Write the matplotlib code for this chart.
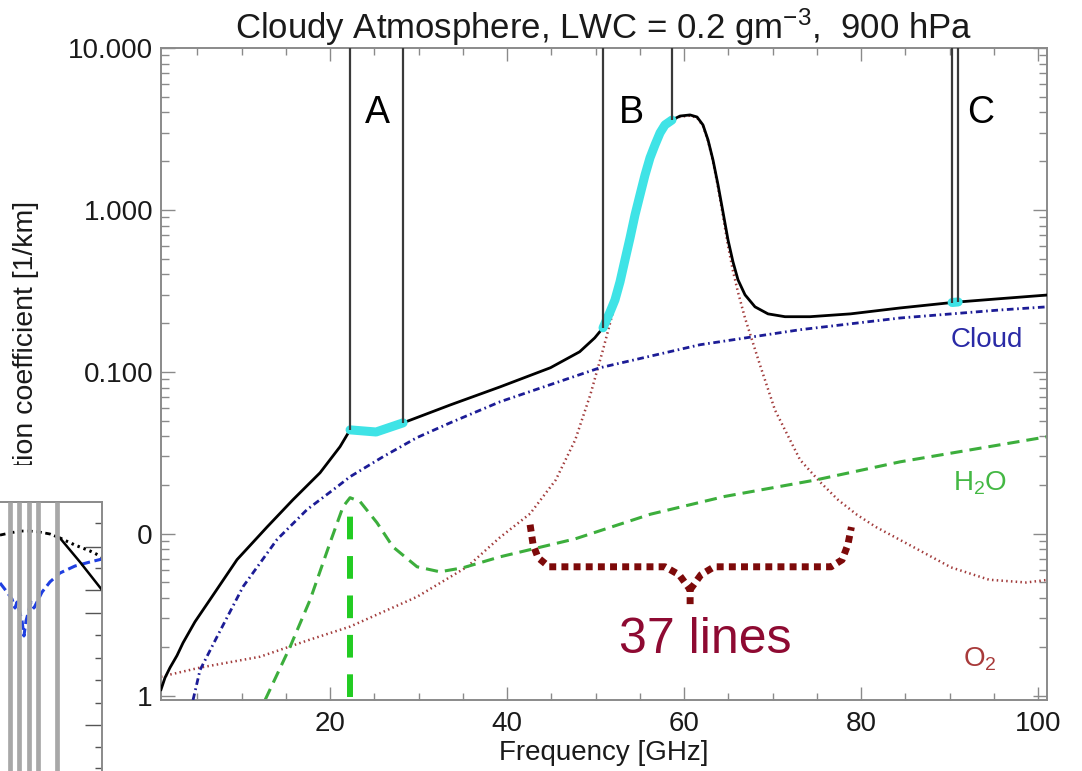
import numpy as np
import matplotlib
matplotlib.use('Agg')
import matplotlib.pyplot as plt
from matplotlib.patches import Rectangle
from matplotlib.ticker import FixedLocator, NullFormatter

plt.rcParams['font.family'] = ['Liberation Sans', 'DejaVu Sans']
plt.rcParams['mathtext.fontset'] = 'custom'
plt.rcParams['mathtext.rm'] = 'Liberation Sans'
plt.rcParams['mathtext.it'] = 'Liberation Sans:italic'
plt.rcParams['mathtext.bf'] = 'Liberation Sans:bold'

# ---- absorption spectra, 900 hPa, LWC 0.2 g/m3 (frequency in GHz, 1/km) ----
total_f = [0.9, 1.35, 1.92, 2.71, 3.39, 4.74, 6.44, 9.49, 12.88, 15.8, 18.87,
           21.13, 22.26, 25.2, 28.25, 33.6, 39.2, 44.9, 48.2, 49.9, 50.84, 51.63,
           52.19, 52.76, 53.32, 53.89, 54.45, 55.02, 55.58, 56.15, 56.71, 57.28,
           57.84, 58.63, 59.54, 60.67, 61.46, 62.13, 62.7, 63.26, 63.83, 64.39,
           64.96, 65.52, 66.09, 66.88, 68.01, 69.48, 71.4, 74.22, 78.8, 84.4,
           90.28, 90.96, 95.7, 101.0]
total_v = [0.00109, 0.00129, 0.00149, 0.00177, 0.00212, 0.00286, 0.00392, 0.00692,
           0.0110, 0.0162, 0.0238, 0.0345, 0.0438, 0.0425, 0.0484, 0.0625, 0.0807,
           0.106, 0.133, 0.162, 0.187, 0.234, 0.278, 0.360, 0.491, 0.671, 0.93,
           1.24, 1.64, 2.10, 2.52, 2.99, 3.35, 3.59, 3.80, 3.86, 3.75, 3.35, 2.71,
           2.04, 1.43, 0.972, 0.653, 0.478, 0.370, 0.299, 0.252, 0.228, 0.219,
           0.219, 0.228, 0.248, 0.268, 0.270, 0.283, 0.298]

cloud_f = [4.52, 5.31, 7.23, 10.17, 14.0, 17.4, 20.8, 22.26, 25.99, 29.8, 33.56,
           39.2, 50.5, 61.8, 73.1, 84.4, 95.7, 101.0]
cloud_v = [0.00094, 0.00144, 0.00231, 0.00471, 0.0092, 0.0141, 0.0195, 0.0225,
           0.0299, 0.0392, 0.0484, 0.0653, 0.106, 0.147, 0.182, 0.215, 0.241, 0.252]

h2o_f = [12.66, 15.48, 17.74, 20.0, 21.47, 22.26, 23.39, 25.3, 27.1, 29.83, 32.4,
         35.0, 39.2, 47.7, 56.2, 64.6, 74.9, 84.4, 101.0]
h2o_v = [0.00094, 0.0020, 0.0039, 0.0088, 0.0147, 0.0167, 0.0158, 0.0117, 0.0083,
         0.00625, 0.00582, 0.00616, 0.0072, 0.0093, 0.0132, 0.0170, 0.0215, 0.0278,
         0.0397]

o2_f = [0.9, 5.31, 12.1, 17.74, 22.26, 29.83, 35.5, 39.2, 42.6, 45.5, 47.7, 49.4,
        50.84, 52.19, 53.32, 54.45, 55.58, 56.71, 57.84, 58.63, 59.54, 60.67,
        61.46, 62.13, 62.7, 63.26, 63.83, 64.39, 64.96, 65.52, 66.09, 66.88, 68.58,
        70.27, 73.1, 75.35, 77.39, 79.53, 81.68, 85.86, 90.15, 94.45, 98.63, 101.2]
o2_v = [0.00131, 0.00149, 0.00174, 0.00222, 0.00267, 0.00408, 0.00625, 0.0095,
        0.0133, 0.0215, 0.038, 0.072, 0.137, 0.26, 0.477, 0.905, 1.6, 2.48, 3.3,
        3.55, 3.76, 3.82, 3.71, 3.31, 2.67, 2.0, 1.38, 0.92, 0.60, 0.42, 0.31,
        0.215, 0.110, 0.058, 0.0286, 0.0209, 0.0162, 0.0131, 0.0110, 0.0083,
        0.0062, 0.0052, 0.0050, 0.0052]

# channel bands A, B, C: edges and the total absorption at each edge
band_names = ['A', 'B', 'C']
band_lo = [22.26, 50.84, 90.28]
band_hi = [28.25, 58.63, 90.96]
band_lo_v = [0.0438, 0.187, 0.268]
band_hi_v = [0.0484, 3.59, 0.270]
band_label_f = [25.3, 54.1, 93.5]

h2o_line_f = 22.235
h2o_line_range = (0.00098, 0.0137)

# brace marking the 60 GHz O2 line complex
brace_left_f = [42.6, 42.94, 43.5, 44.75, 57.85, 59.44, 60.68, 60.68]
brace_left_v = [0.01137, 0.00855, 0.00711, 0.00625, 0.00625, 0.00558, 0.00451, 0.00364]
brace_right_f = [60.68, 61.9, 63.4, 76.6, 77.85, 78.5, 78.9]
brace_right_v = [0.00451, 0.00558, 0.00625, 0.00625, 0.0069, 0.00855, 0.011]

# fragment of the neighbouring figure (arbitrary units)
frag_bars = [0.98, 1.86, 2.84, 3.73, 5.59]
frag_dash_x = [0, 0.98, 1.96, 2.94, 3.92, 4.9, 5.88]
frag_dash_y = [8.77, 8.85, 8.92, 8.92, 8.88, 8.81, 8.66]
frag_dot_x = [5.88, 7.35, 8.82, 10.0]
frag_dot_y = [8.66, 8.40, 8.18, 7.96]
frag_solid_x = [5.88, 7.84, 10.0]
frag_solid_y = [8.66, 7.77, 6.73]
frag_blue_x = [0, 0.59, 1.18, 1.47, 1.67, 2.16, 2.35, 2.55, 3.04, 3.33, 4.12, 4.9,
               5.88, 7.35, 8.82, 10.0]
frag_blue_y = [6.99, 6.70, 6.39, 6.06, 6.28, 5.58, 5.02, 5.58, 6.28, 6.06, 6.65,
               7.03, 7.36, 7.62, 7.77, 7.88]
frag_major = [8.33, 6.73, 5.87, 1.71]
frag_minor = [9.22, 7.55, 5.06, 4.2, 3.38, 2.53, 0.89, 0.11]

W, H = 1082, 771
fig = plt.figure(figsize=(W / 100, H / 100), dpi=100)
ax = fig.add_axes([161 / W, 71 / H, 886 / W, 652 / H])

ax.plot(o2_f, o2_v, color='#a23c3c', lw=1.8, dashes=[0.6, 1.3], zorder=2)
ax.plot(h2o_f, h2o_v, color='#3cae3c', lw=2.2, dashes=[4, 2.3], zorder=2)
ax.plot(cloud_f, cloud_v, color='#1c1c96', lw=2.0, dashes=[2.4, 1.3, 0.6, 1.3], zorder=3)
ax.plot(total_f, total_v, color='black', lw=2.0, zorder=4)

# highlight the total curve inside each band
tf = np.array(total_f)
tv = np.array(total_v)
for lo, hi in zip(band_lo, band_hi):
    m = (tf >= lo - 1e-6) & (tf <= hi + 1e-6)
    ax.plot(tf[m], tv[m], color='#3fe3e6', lw=6.5, solid_capstyle='round', zorder=5)

ax.vlines(band_lo, band_lo_v, 10, colors='#3a3a3a', lw=1.6, zorder=6)
ax.vlines(band_hi, band_hi_v, 10, colors='#3a3a3a', lw=1.6, zorder=6)
for name, xc in zip(band_names, band_label_f):
    ax.text(xc, 3.95, name, fontsize=27, ha='center', va='center', zorder=7)

ax.vlines(h2o_line_f, *h2o_line_range, colors='#22cc22', lw=4.3,
          linestyles=(0, (3.8, 2.8)), zorder=6)

ax.plot(brace_left_f, brace_left_v, color='#7d0a0a', lw=5, dashes=[1, 0.75],
        solid_capstyle='butt', zorder=6)
ax.plot(brace_right_f, brace_right_v, color='#7d0a0a', lw=5, dashes=[1, 0.75],
        solid_capstyle='butt', zorder=6)
ax.text(62.4, 0.00222, '37 lines', fontsize=36, color='#8e0a32', ha='center',
        va='center', zorder=7)

ax.text(94.2, 0.158, 'Cloud', fontsize=20, color='#2a2aa6', ha='center', va='center')
ax.text(93.4, 0.0204, r'H$_2$O', fontsize=20, color='#44b844', ha='center', va='center')
ax.text(93.4, 0.00168, r'O$_2$', fontsize=20, color='#a83a3a', ha='center', va='center')

ax.set_yscale('log')
ax.set_xlim(0.9, 101.0)
ax.set_ylim(0.00094, 10.0)
ax.set_xticks([20, 40, 60, 80, 100])
ax.set_xticks(np.arange(5, 101, 5), minor=True)
ax.set_yticks([0.001, 0.01, 0.1, 1, 10])
ax.set_yticklabels(['0.001', '0.010', '0.100', '1.000', '10.000'])
ax.yaxis.set_minor_formatter(NullFormatter())
ax.tick_params(axis='both', which='both', direction='in', top=True, right=True,
               colors='#8a8a8a', labelcolor='#1a1a1a', labelsize=20)
ax.tick_params(axis='x', which='major', length=9.5, width=1, pad=8)
ax.tick_params(axis='x', which='minor', length=5, width=1)
ax.tick_params(axis='y', which='major', length=10, width=1, pad=5.5)
ax.tick_params(axis='y', which='minor', length=6, width=1)
for s in ax.spines.values():
    s.set_color('#8a8a8a')
    s.set_linewidth(1.4)

ax.set_xlabel('Frequency [GHz]', fontsize=20, labelpad=2, color='#1a1a1a')
ax.set_ylabel('Absorption coefficient [1/km]', fontsize=20.5, color='#1a1a1a')
ax.yaxis.set_label_coords(-0.138, 0.492)
ax.set_title(r'Cloudy Atmosphere, LWC = 0.2 gm$^{\mathrm{-3}}$,  900 hPa',
             fontsize=25, pad=4, color='#1a1a1a')

# neighbouring figure fragment pasted over the lower left corner
fig.add_artist(Rectangle((0, 0), 136.5 / W, 306 / H, transform=fig.transFigure,
                         facecolor='white', edgecolor='none', zorder=5))
ins = fig.add_axes([0, 0, 102 / W, 269 / H], zorder=6)
ins.set_xlim(0, 10)
ins.set_ylim(0, 10)
ins.plot(frag_blue_x, frag_blue_y, color='#1f3fe0', lw=2.2, dashes=[3, 1.5])
ins.plot(frag_dash_x, frag_dash_y, color='black', lw=2.0, dashes=[2, 1.3])
ins.plot(frag_dot_x, frag_dot_y, color='black', lw=2.2, dashes=[0.8, 1.3])
ins.plot(frag_solid_x, frag_solid_y, color='black', lw=1.8)
ins.vlines(frag_bars, 0, 10, colors='#a8a8a8', lw=3.4, zorder=5)
ins.spines['left'].set_visible(False)
ins.spines['bottom'].set_visible(False)
for s in ('top', 'right'):
    ins.spines[s].set_color('#8a8a8a')
    ins.spines[s].set_linewidth(1.4)
ins.set_xticks([])
ins.yaxis.tick_right()
ins.yaxis.set_major_locator(FixedLocator(frag_major))
ins.yaxis.set_minor_locator(FixedLocator(frag_minor))
ins.tick_params(axis='y', which='both', direction='in', labelright=False,
                colors='#555555', width=1)
ins.tick_params(axis='y', which='major', length=12)
ins.tick_params(axis='y', which='minor', length=5)

fig.savefig('out.png', dpi=100)
